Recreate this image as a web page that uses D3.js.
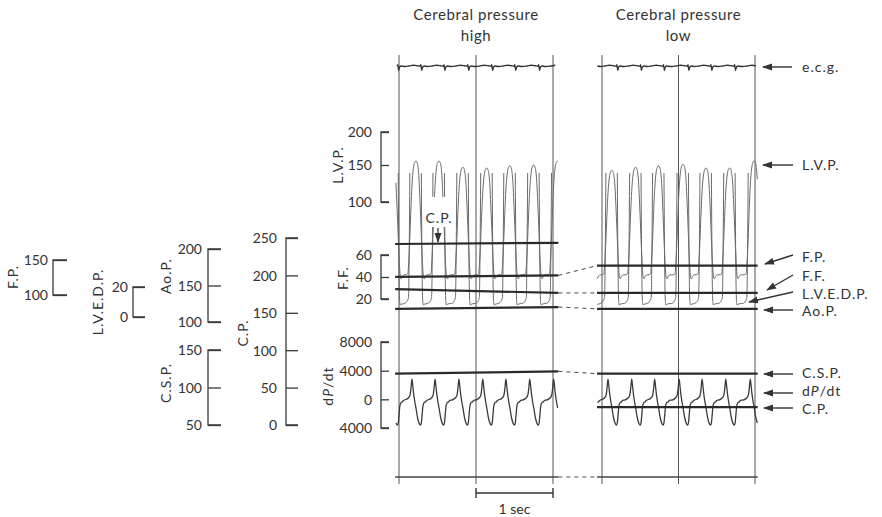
<!DOCTYPE html>
<html>
<head>
<meta charset="utf-8">
<script src="https://cdn.jsdelivr.net/npm/d3@7/dist/d3.min.js"></script>
<style>
    body { margin: 0; background: #fff; }
    svg text { font-family: Lato, "Open Sans", sans-serif; fill: #333; font-size: 14px; }
    .axis path, .axis line { stroke: #3a3a3a; stroke-width: 1.3px; }
    .axis text { font-size: 14px; }
    .lbl { letter-spacing: 1px; }
</style>
</head>
<body>
<svg id="chart" width="882" height="517"></svg>
<script>
// time marks in seconds, and the visible stretch of each panel
var timeMarks = [0, 1, 2];
var windowHigh = [-0.05, 2.07];
var windowLow = [-0.065, 2.035];

// LVP peak times (s) and peak values (mmHg) per beat
var beatsHigh = [-0.08, 0.22, 0.52, 0.83, 1.14, 1.44, 1.75, 2.06];
var beatsLow = [-0.17, 0.13, 0.44, 0.74, 1.06, 1.36, 1.67, 1.99];
var lvpPeakHigh = [150, 156, 156, 147, 146, 149, 150, 156];
var lvpPeakLow = [146, 143, 147, 149, 151, 146, 146, 156];

// beat shapes: [offset from LVP peak (s), value]
var lvpShape = [[-0.15, 0.01], [-0.125, 0.012], [-0.105, 0.02], [-0.094, 0.12], [-0.08, 0.32], [-0.067, 0.55],
    [-0.055, 0.74], [-0.043, 0.87], [-0.03, 0.95], [-0.015, 0.99], [0, 1], [0.015, 0.985], [0.028, 0.94],
    [0.04, 0.84], [0.052, 0.66], [0.065, 0.44], [0.078, 0.21], [0.091, 0.04], [0.100, -0.02],
    [0.110, -0.025], [0.125, 0.0], [0.15, 0.01]];
var lvedpShape = [[-0.15, 9], [-0.11, 11], [-0.097, 13], [-0.088, 40], [-0.079, 96], [-0.074, null],
    [0.065, null], [0.07, 96], [0.078, 40], [0.087, 12], [0.096, 8], [0.11, 8.5], [0.15, 9]];
var dpdtShape = [[-0.15, -100], [-0.11, 100], [-0.09, 300], [-0.075, 700], [-0.065, 1500], [-0.052, 2800],
    [-0.042, 2000], [-0.03, 800], [-0.015, -300], [0, -1200], [0.02, -2500], [0.04, -3300], [0.06, -3600],
    [0.07, -3300], [0.08, -2200], [0.09, -1000], [0.10, -600], [0.11, -400], [0.125, -350], [0.135, -200],
    [0.15, -100]];
var ecgShape = [[-0.15, 0], [-0.09, 0.1], [-0.03, 0.25], [0.02, 0.15], [0.055, 0.05], [0.065, 0.35],
    [0.075, -0.8], [0.088, -0.1], [0.11, 0.1], [0.15, 0]];

// slow traces: value at panel start and end
var fpHigh = [126, 128], fpLow = [142, 142];
var ffHigh = [29, 25.5], ffLow = [25.5, 25.5];
var aopHigh = [118, 120.5], aopLow = [118, 118];
var cspHigh = [118.5, 121.5], cspLow = [118.5, 118.5];
var cpHigh = [242, 243.5], cpLow = [24, 24];

// calibration ticks
var fpTicks = [100, 150];
var lvedpTicks = [0, 20];
var aopTicks = [100, 150, 200];
var cspTicks = [50, 100, 150];
var cpTicks = [0, 50, 100, 150, 200, 250];
var lvpTicks = [100, 150, 200];
var ffTicks = [20, 40, 60];
var dpdtTicks = [-4000, 0, 4000, 8000];

var svg = d3.select("#chart");

var xHigh = d3.scaleLinear().domain([0, 2]).range([399, 553]);
var xLow = d3.scaleLinear().domain([0, 2]).range([602, 755]);

var fpY = d3.scaleLinear().domain([100, 150]).range([295, 260]);
var lvedpY = d3.scaleLinear().domain([0, 20]).range([317, 287]);
var aopY = d3.scaleLinear().domain([100, 200]).range([322, 249]);
var cspY = d3.scaleLinear().domain([50, 150]).range([425, 350]);
var cpY = d3.scaleLinear().domain([0, 250]).range([425, 238]);
var lvpY = d3.scaleLinear().domain([100, 150, 200]).range([202, 165, 132]);
var ffY = d3.scaleLinear().domain([20, 60]).range([299, 255]);
var dpY = d3.scaleLinear().domain([-4000, 8000]).range([428, 342]);
var ecgY = d3.scaleLinear().domain([-1, 1]).range([71.5, 61.5]);

svg.append("defs").append("marker")
    .attr("id", "head")
    .attr("markerUnits", "userSpaceOnUse")
    .attr("markerWidth", 10).attr("markerHeight", 8)
    .attr("refX", 9).attr("refY", 3.5)
    .attr("orient", "auto")
    .append("path").attr("d", "M0,0L10,3.5L0,7Z").attr("fill", "#333");

function trace(beats, shape, win, amp) {
    var pts = [];
    beats.forEach(function (tp, i) {
        shape.forEach(function (p) {
            var t = tp + p[0];
            if (t >= win[0] && t <= win[1]) {
                pts.push({ t: t, v: p[1] === null ? null : (amp ? p[1] * amp[i] : p[1]) });
            }
        });
    });
    return pts.sort(function (a, b) { return a.t - b.t; });
}

var panels = [
    { x: xHigh, win: windowHigh, beats: beatsHigh, peaks: lvpPeakHigh,
      fp: fpHigh, ff: ffHigh, aop: aopHigh, csp: cspHigh, cp: cpHigh },
    { x: xLow, win: windowLow, beats: beatsLow, peaks: lvpPeakLow,
      fp: fpLow, ff: ffLow, aop: aopLow, csp: cspLow, cp: cpLow }
];

// titles
[["high", xHigh], ["low", xLow]].forEach(function (d) {
    var cx = d[1](1);
    svg.append("text").attr("x", cx).attr("y", 20).attr("text-anchor", "middle")
        .style("font-size", "15px").style("letter-spacing", "0.6px").text("Cerebral pressure");
    svg.append("text").attr("x", cx).attr("y", 41).attr("text-anchor", "middle")
        .style("font-size", "15px").style("letter-spacing", "0.6px").text(d[0]);
});

panels.forEach(function (p) {
    var g = svg.append("g");
    var x0 = p.x(p.win[0]), x1 = p.x(p.win[1]);

    // time marks
    g.selectAll(".mark").data(timeMarks).enter().append("line")
        .attr("x1", function (d) { return p.x(d); }).attr("x2", function (d) { return p.x(d); })
        .attr("y1", 55).attr("y2", 484)
        .attr("stroke", "#555").attr("stroke-width", 1);

    // base line
    g.append("line").attr("x1", x0).attr("x2", x1).attr("y1", 477).attr("y2", 477)
        .attr("stroke", "#444").attr("stroke-width", 1.3);

    var line = function (yScale) {
        return d3.line()
            .defined(function (d) { return d.v !== null; })
            .x(function (d) { return p.x(d.t); })
            .y(function (d) { return yScale(d.v); })
            .curve(d3.curveMonotoneX);
    };

    g.append("path").datum(trace(p.beats, lvpShape, p.win, p.peaks))
        .attr("d", line(lvpY)).attr("fill", "none").attr("stroke", "#6a6a6a").attr("stroke-width", 1);
    g.append("path").datum(trace(p.beats, lvedpShape, p.win))
        .attr("d", line(lvedpY)).attr("fill", "none").attr("stroke", "#6a6a6a").attr("stroke-width", 1);
    g.append("path").datum(trace(p.beats, dpdtShape, p.win))
        .attr("d", line(dpY)).attr("fill", "none").attr("stroke", "#3a3a3a").attr("stroke-width", 1.3);
    g.append("path").datum(trace(p.beats, ecgShape, p.win))
        .attr("d", line(ecgY)).attr("fill", "none").attr("stroke", "#333").attr("stroke-width", 1.3);

    // slow pressure / flow traces
    [[p.fp, fpY], [p.ff, ffY], [p.aop, aopY], [p.csp, cspY], [p.cp, cpY]].forEach(function (s) {
        g.append("line")
            .attr("x1", x0).attr("x2", x1)
            .attr("y1", s[1](s[0][0])).attr("y2", s[1](s[0][1]))
            .attr("stroke", "#2a2a2a").attr("stroke-width", 2.2);
    });
});

// dashed joins between the two panels
var hi = panels[0], lo = panels[1];
var joins = [[fpY, hi.fp[1], lo.fp[0]], [ffY, hi.ff[1], lo.ff[0]], [aopY, hi.aop[1], lo.aop[0]],
    [cspY, hi.csp[1], lo.csp[0]]];
joins.forEach(function (j) {
    svg.append("line")
        .attr("x1", xHigh(windowHigh[1])).attr("y1", j[0](j[1]))
        .attr("x2", xLow(windowLow[0])).attr("y2", j[0](j[2]))
        .attr("stroke", "#444").attr("stroke-width", 1).attr("stroke-dasharray", "4,4");
});
svg.append("line")
    .attr("x1", xHigh(windowHigh[1])).attr("y1", 477).attr("x2", xLow(windowLow[0])).attr("y2", 477)
    .attr("stroke", "#444").attr("stroke-width", 1).attr("stroke-dasharray", "4,4");

// C.P. marker in the high panel
svg.append("rect").attr("x", 426).attr("y", 197).attr("width", 26).attr("height", 30).attr("fill", "#fff");
svg.append("text").attr("class", "lbl").attr("x", 439).attr("y", 223).attr("text-anchor", "middle").text("C.P.");
svg.append("line").attr("x1", 438).attr("x2", 438).attr("y1", 228).attr("y2", 242)
    .attr("stroke", "#333").attr("stroke-width", 1.3).attr("marker-end", "url(#head)");

// calibration brackets
function bracket(scale, ticks, x, len, gap, fmt) {
    var ax = d3.axisRight(scale).tickValues(ticks).tickSize(len).tickSizeOuter(len)
        .tickFormat(fmt || d3.format("d"));
    var g = svg.append("g").attr("class", "axis").attr("transform", "translate(" + x + ",0)").call(ax);
    g.select(".domain").attr("d", function () {
        var r = d3.extent(ticks.map(scale));
        return "M" + len + "," + r[0] + "H0V" + r[1] + "H" + len;
    }).attr("fill", "none");
    g.selectAll(".tick text").attr("x", -gap).attr("text-anchor", "end").attr("dy", "0.35em");
    return g;
}
function vlabel(x, y, txt) {
    return svg.append("text").attr("class", "lbl")
        .attr("transform", "translate(" + x + "," + y + ") rotate(-90)")
        .attr("text-anchor", "middle").attr("dy", "0.35em").text(txt);
}

bracket(fpY, fpTicks, 53, 14, 5);
vlabel(13, 277, "F.P.");
bracket(lvedpY, lvedpTicks, 133, 12, 5);
vlabel(98, 302, "L.V.E.D.P.");
bracket(aopY, aopTicks, 208, 13, 6);
vlabel(166, 276, "Ao.P.");
bracket(cspY, cspTicks, 208, 13, 6);
vlabel(166, 383, "C.S.P.");
bracket(cpY, cpTicks, 286, 12, 9);
vlabel(243, 333, "C.P.");

bracket(lvpY, lvpTicks, 381, 8, 9);
vlabel(338, 165, "L.V.P.");
bracket(ffY, ffTicks, 381, 8, 9);
vlabel(343, 278, "F.F.");
bracket(dpY, dpdtTicks, 381, 8, 9, function (d) { return Math.abs(d); });
var dl = vlabel(328, 386, "");
dl.append("tspan").text("d");
dl.append("tspan").style("font-style", "italic").text("P");
dl.append("tspan").text("/dt");

// time bar
var tb = svg.append("g").attr("stroke", "#333").attr("stroke-width", 1.4);
tb.append("line").attr("x1", xHigh(1)).attr("x2", xHigh(2)).attr("y1", 493).attr("y2", 493);
tb.append("line").attr("x1", xHigh(1)).attr("x2", xHigh(1)).attr("y1", 488).attr("y2", 498);
tb.append("line").attr("x1", xHigh(2)).attr("x2", xHigh(2)).attr("y1", 488).attr("y2", 498);
svg.append("text").attr("x", xHigh(1.5)).attr("y", 514).attr("text-anchor", "middle").text("1 sec");

// right-hand trace labels
var notes = [
    { t: "e.c.g.", y: 67, a: [792, 67, 763, 67] },
    { t: "L.V.P.", y: 165, a: [793, 165, 763, 165] },
    { t: "F.P.", y: 257, a: [793, 255, 765, 264] },
    { t: "F.F.", y: 276, a: [793, 275, 767, 290] },
    { t: "L.V.E.D.P.", y: 294, a: [793, 292, 749, 302] },
    { t: "Ao.P.", y: 311, a: [793, 310, 764, 310] },
    { t: "C.S.P.", y: 373, a: [793, 374, 764, 374] },
    { t: "dP/dt", y: 391, a: [793, 393, 764, 393] },
    { t: "C.P.", y: 409, a: [793, 408, 764, 408] }
];
notes.forEach(function (n) {
    svg.append("line").attr("x1", n.a[0]).attr("y1", n.a[1]).attr("x2", n.a[2]).attr("y2", n.a[3])
        .attr("stroke", "#333").attr("stroke-width", 1.4).attr("marker-end", "url(#head)");
    var t = svg.append("text").attr("class", "lbl").attr("x", 802).attr("y", n.y).attr("dy", "0.35em");
    if (n.t === "dP/dt") {
        t.append("tspan").text("d");
        t.append("tspan").style("font-style", "italic").text("P");
        t.append("tspan").text("/dt");
    } else {
        t.text(n.t);
    }
});
</script>
</body>
</html>
